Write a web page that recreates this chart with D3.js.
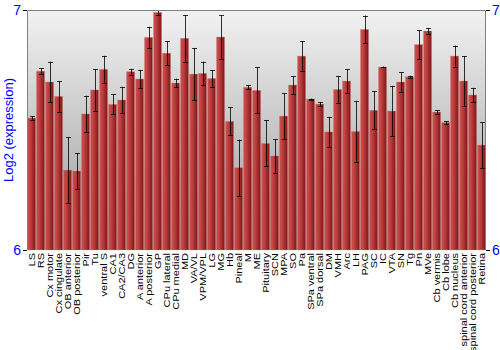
<!DOCTYPE html>
<html>
<head>
<meta charset="utf-8">
<script src="https://cdn.jsdelivr.net/npm/d3@7"></script>
<style>
  body { margin: 0; background: #fff; }
  svg { font-family: "Liberation Sans", Arial, sans-serif; }
</style>
</head>
<body>
<svg id="chart" width="500" height="350"></svg>
<script>
// tissues along the x axis
var tissues = ["LS", "RS", "Cx motor", "Cx cingulate", "OB anterior", "OB posterior", "Pir", "Tu",
  "ventral S", "CA1", "CA2/CA3", "DG", "A anterior", "A posterior", "GP", "CPu lateral", "CPu medial",
  "MD", "VA/VL", "VPM/VPL", "LG", "MG", "Hb", "Pineal", "M", "ME", "Pituitary", "SCN", "MPA", "SO",
  "Pa", "SPa ventral", "SPa dorsal", "DM", "VMH", "Arc", "LH", "PAG", "SC", "IC", "VTA", "SN", "Tg",
  "Pn", "MVe", "Cb vermis", "Cb lobe", "Cb nucleus", "spinal cord anterior", "spinal cord posterior", "Retina"];

// mean log2 expression
var means = [6.55, 6.745, 6.70, 6.64, 6.333, 6.329, 6.567, 6.667,
  6.753, 6.607, 6.625, 6.743, 6.7125, 6.886, 6.99, 6.82, 6.696,
  6.882, 6.733, 6.736, 6.715, 6.8875, 6.536, 6.343, 6.678, 6.665, 6.444, 6.392, 6.558, 6.6875,
  6.808, 6.629, 6.608, 6.492, 6.669, 6.704, 6.494, 6.919, 6.582, 6.7625, 6.579, 6.70, 6.722,
  6.856, 6.9125, 6.575, 6.531, 6.808, 6.704, 6.646, 6.4375];

// error (half length of the whisker)
var errs = [0.007, 0.0125, 0.085, 0.064, 0.1375, 0.075, 0.076, 0.087,
  0.056, 0.042, 0.055, 0.012, 0.038, 0.044, 0.01, 0.049, 0.018,
  0.097, 0.109, 0.049, 0.035, 0.09, 0.058, 0.117, 0.008, 0.096, 0.096, 0.07, 0.095, 0.036,
  0.061, 0.002, 0.008, 0.0625, 0.057, 0.049, 0.127, 0.058, 0.079, 0.002, 0.105, 0.041, 0.004,
  0.06, 0.0125, 0.007, 0.005, 0.044, 0.104, 0.03, 0.095];

var yTicks = [6, 7];
var yTitle = "Log2 (expression)";

var svg = d3.select("#chart");
var margin = {top: 10, right: 14, bottom: 100, left: 27};
var w = 500 - margin.left - margin.right;
var h = 350 - margin.top - margin.bottom;

var defs = svg.append("defs");
var bg = defs.append("linearGradient").attr("id", "bg")
  .attr("x1", 0).attr("y1", 0).attr("x2", 0).attr("y2", 1);
bg.append("stop").attr("offset", "0%").attr("stop-color", "#f2f2f2");
bg.append("stop").attr("offset", "100%").attr("stop-color", "#9a9a9a");

var barGrad = defs.append("linearGradient").attr("id", "barGrad")
  .attr("x1", 0).attr("y1", 0).attr("x2", 1).attr("y2", 0);
barGrad.append("stop").attr("offset", "0%").attr("stop-color", "#cc4c4c");
barGrad.append("stop").attr("offset", "30%").attr("stop-color", "#c44444");
barGrad.append("stop").attr("offset", "100%").attr("stop-color", "#7e1616");

var x = d3.scaleBand().domain(tissues).range([0, w]).paddingInner(0.1).paddingOuter(0.05);
var y = d3.scaleLinear().domain([6, 7]).range([h, 0]);

var g = svg.append("g").attr("transform", "translate(" + margin.left + "," + margin.top + ")");

// plot background
g.append("rect").attr("width", w).attr("height", h).attr("fill", "url(#bg)");

var data = tissues.map(function(t, i) { return {name: t, v: means[i], e: errs[i]}; });

// bars
g.selectAll(".bar").data(data).enter().append("rect")
  .attr("class", "bar")
  .attr("x", function(d) { return x(d.name); })
  .attr("y", function(d) { return y(d.v); })
  .attr("width", x.bandwidth())
  .attr("height", function(d) { return h - y(d.v); })
  .attr("fill", "url(#barGrad)")
  .attr("stroke", "#d88")
  .attr("stroke-opacity", 0.5)
  .attr("stroke-width", 0.6);

// error bars
var cx = function(name) { return Math.round(x(name) + x.bandwidth() / 2); };
var eb = g.selectAll(".err").data(data).enter().append("g").attr("class", "err")
  .attr("stroke", "#000").attr("stroke-opacity", 0.8).attr("stroke-width", 1);
eb.append("line")
  .attr("x1", function(d) { return cx(d.name) + 0.5; })
  .attr("x2", function(d) { return cx(d.name) + 0.5; })
  .attr("y1", function(d) { return y(d.v + d.e); })
  .attr("y2", function(d) { return y(d.v - d.e); });
eb.selectAll(".cap").data(function(d) { return [[d, d.v + d.e], [d, d.v - d.e]]; })
  .enter().append("line")
  .attr("x1", function(p) { return cx(p[0].name) - 2; })
  .attr("x2", function(p) { return cx(p[0].name) + 3; })
  .attr("y1", function(p) { return Math.round(y(p[1])) + 0.5; })
  .attr("y2", function(p) { return Math.round(y(p[1])) + 0.5; });

// frame: top, left, right
g.append("path")
  .attr("d", "M0.5," + h + "V0.5H" + (w - 0.5) + "V" + h)
  .attr("fill", "none").attr("stroke", "#808080").attr("stroke-width", 1);

// y axes on both sides
var yAxisL = d3.axisLeft(y).tickValues(yTicks).tickFormat(d3.format("d")).tickSize(4).tickPadding(2);
var yAxisR = d3.axisRight(y).tickValues(yTicks).tickFormat(d3.format("d")).tickSize(4).tickPadding(2);
[g.append("g").call(yAxisL), g.append("g").attr("transform", "translate(" + w + ",0)").call(yAxisR)]
  .forEach(function(a) {
    a.select(".domain").remove();
    a.selectAll("line").attr("stroke", "#000");
    a.selectAll("text").attr("fill", "#0000ff").style("font-size", "14px");
  });

// x labels, rotated and squeezed across like the original
g.append("g").selectAll("text").data(tissues).enter().append("text")
  .attr("transform", function(d) {
    return "translate(" + (x(d) + x.bandwidth() / 2 + 3) + "," + (h + 3) + ") rotate(-90) scale(1,0.86)";
  })
  .attr("text-anchor", "end")
  .style("font-size", "11px")
  .attr("fill", "#000")
  .text(function(d) { return d; });

// y title
svg.append("text")
  .attr("transform", "translate(13," + (margin.top + h / 2) + ") rotate(-90)")
  .attr("text-anchor", "middle")
  .attr("fill", "#0000ff")
  .style("font-size", "13px")
  .text(yTitle);
</script>
</body>
</html>
